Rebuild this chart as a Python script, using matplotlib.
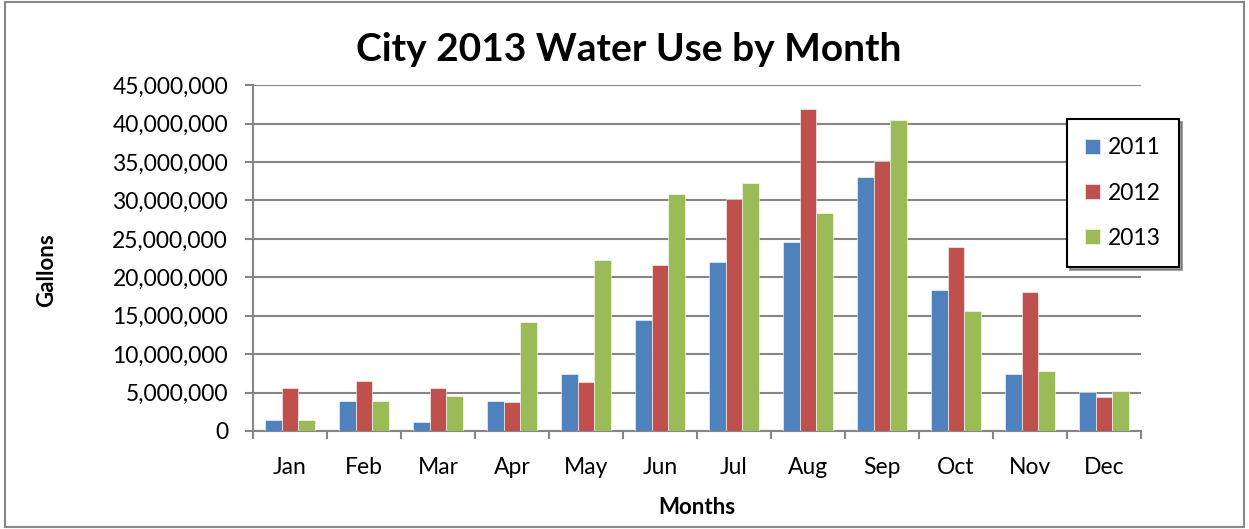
"""
City water use by month, 2011-2013, grouped column chart.
"""

import numpy as np
import matplotlib
matplotlib.use('Agg')
import matplotlib.pyplot as plt
from matplotlib.patches import Rectangle
from matplotlib.ticker import FuncFormatter, MultipleLocator, FixedLocator

months = ['Jan', 'Feb', 'Mar', 'Apr', 'May', 'Jun',
          'Jul', 'Aug', 'Sep', 'Oct', 'Nov', 'Dec']
use_2011 = [1.4e6, 3.86e6, 1.17e6, 3.86e6, 7.45e6, 14.4e6,
            22.05e6, 24.6e6, 33.1e6, 18.3e6, 7.4e6, 5.1e6]
use_2012 = [5.55e6, 6.55e6, 5.63e6, 3.72e6, 6.32e6, 21.6e6,
            30.2e6, 41.9e6, 35.1e6, 23.95e6, 18.06e6, 4.42e6]
use_2013 = [1.4e6, 3.9e6, 4.55e6, 14.2e6, 22.3e6, 30.8e6,
            32.3e6, 28.4e6, 40.5e6, 15.55e6, 7.84e6, 5.24e6]
years = ['2011', '2012', '2013']
colors = ['#4F81BD', '#C0504D', '#9BBB59']

plt.rcParams['font.family'] = ['Lato', 'DejaVu Sans']

fig = plt.figure(figsize=(12.49, 5.29), dpi=100)
ax = fig.add_axes([0.2026, 0.1853, 0.9135 - 0.2026, 0.839 - 0.1853])

# chart area border
fig.patches.append(Rectangle((0.004, 0.004), 0.992, 0.992, transform=fig.transFigure,
                             fill=False, edgecolor='#888888', linewidth=1.5))

x = np.arange(len(months))
w = 0.225
grid_c = '#868686'
for i, (vals, yr) in enumerate(zip([use_2011, use_2012, use_2013], years)):
    ax.bar(x + (i - 1) * w, vals, width=w, color=colors[i], label=yr,
           edgecolor='white', linewidth=0.4, zorder=3)

ax.set_xlim(-0.5, 11.5)
ax.set_ylim(0, 45e6)
ax.yaxis.set_major_locator(MultipleLocator(5e6))
ax.yaxis.set_major_formatter(FuncFormatter(lambda v, p: f'{int(v):,}'))
ax.grid(axis='y', color=grid_c, linewidth=1.5, zorder=0)

ax.set_xticks(x)
ax.set_xticklabels(months)
ax.xaxis.set_minor_locator(FixedLocator(np.arange(-0.5, 12, 1)))
ax.tick_params(axis='x', which='major', length=0, pad=19, labelsize=16.5)
ax.tick_params(axis='x', which='minor', length=6, width=1.5, color=grid_c)
ax.tick_params(axis='y', length=6, width=1.5, color=grid_c, labelsize=16.5, pad=12)

for side in ['top', 'right']:
    ax.spines[side].set_visible(False)
for side in ['left', 'bottom']:
    ax.spines[side].set_color(grid_c)
    ax.spines[side].set_linewidth(1.5)

fig.text(0.503, 0.906, 'City 2013 Water Use by Month', ha='center', va='center',
         fontsize=28, fontweight='bold')
fig.text(0.037, 0.49, 'Gallons', ha='center', va='center', rotation=90,
         fontsize=16, fontweight='bold')
fig.text(0.558, 0.040, 'Months', ha='center', va='center',
         fontsize=16, fontweight='bold')

leg = ax.legend(loc='upper left', bbox_to_anchor=(0.9167, 0.9017), fontsize=16.5,
                frameon=True, fancybox=False, shadow=True, labelspacing=1.05,
                handlelength=0.65, handleheight=0.65, handletextpad=0.35,
                borderpad=0.8, borderaxespad=0)
leg.get_frame().set_edgecolor('black')
leg.get_frame().set_linewidth(1.5)

fig.savefig('out.png', dpi=100)
